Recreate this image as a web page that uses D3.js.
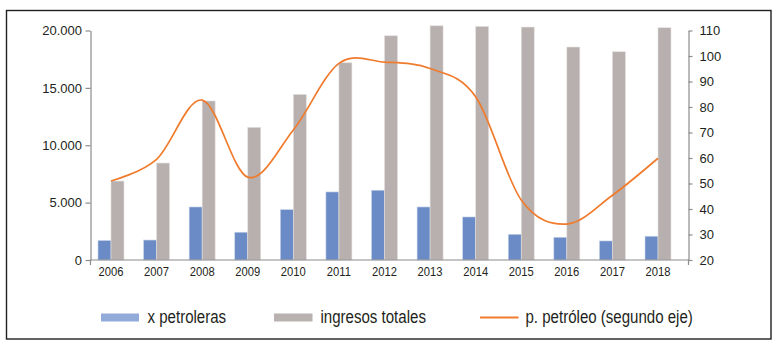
<!DOCTYPE html>
<html>
<head>
<meta charset="utf-8">
<script src="https://cdn.jsdelivr.net/npm/d3@7"></script>
<style>
  html, body { margin: 0; padding: 0; background: #ffffff; }
  svg { display: block; }
</style>
</head>
<body>
<svg id="chart" width="779" height="347"></svg>
<script>
// ---- data ----
const years = ["2006","2007","2008","2009","2010","2011","2012","2013","2014","2015","2016","2017","2018"];
const xPetroleras = [1700, 1740, 4620, 2420, 4390, 5930, 6080, 4620, 3750, 2240, 1980, 1660, 2070];
const ingresosTotales = [6880, 8450, 13860, 11560, 14430, 17190, 19540, 20410, 20360, 20300, 18560, 18150, 20240];
const precioPetroleo = [51, 59.5, 82.7, 52.5, 71, 97.1, 97.6, 95.1, 84, 43.5, 34.1, 45.4, 59.9];
const leftTicks = [0, 5000, 10000, 15000, 20000];
const rightTicks = [20, 30, 40, 50, 60, 70, 80, 90, 100, 110];
const legendLabels = ["x petroleras", "ingresos totales", "p. petróleo (segundo eje)"];

// ---- layout ----
const svg = d3.select("#chart");
const plotLeft = 90.5, plotRight = 688.5, plotTop = 30.5, plotBottom = 260;
const colBlue = "#6a8bc5", colGray = "#b8b0ae", colOrange = "#f07b2c";
const colLegBlue = "#93abd9", colLegGray = "#bab2b0";
const axisCol = "#8c8c8c", textCol = "#231f20";
const font = "'Liberation Sans', Arial, sans-serif";

// condense text horizontally (mimics a condensed typeface)
function condense(sel, factor) {
  sel.each(function () {
    const w = this.getComputedTextLength();
    d3.select(this).attr("textLength", w * factor).attr("lengthAdjust", "spacingAndGlyphs");
  });
}

// frame
svg.append("rect").attr("x", 6.5).attr("y", 10.5).attr("width", 764.5).attr("height", 328.5)
  .attr("fill", "none").attr("stroke", "#231f20").attr("stroke-width", 1.4);

const x = d3.scaleBand().domain(years).range([88.2, 680.8]).paddingInner(0.43).paddingOuter(0.215);
const xSub = d3.scaleBand().domain(["xp", "it"]).range([0, x.bandwidth()]);
const yL = d3.scaleLinear().domain([0, 20000]).range([plotBottom, plotTop]);
const yR = d3.scaleLinear().domain([20, 110]).range([plotBottom, plotTop]);

// bars
const g = svg.append("g");
years.forEach((yr, i) => {
  const x0 = x(yr);
  g.append("rect")
    .attr("x", x0 + xSub("xp")).attr("width", xSub.bandwidth())
    .attr("y", yL(xPetroleras[i])).attr("height", yL(0) - yL(xPetroleras[i]))
    .attr("fill", colBlue).attr("stroke", "#c9d4ea").attr("stroke-width", 0.6);
  g.append("rect")
    .attr("x", x0 + xSub("it")).attr("width", xSub.bandwidth())
    .attr("y", yL(ingresosTotales[i])).attr("height", yL(0) - yL(ingresosTotales[i]))
    .attr("fill", colGray).attr("stroke", "#e4e0df").attr("stroke-width", 0.6);
});

// x axis line with end ticks
svg.append("path")
  .attr("d", `M${plotLeft},${plotBottom + 5}V${plotBottom}H${plotRight}V${plotBottom + 5}`)
  .attr("fill", "none").attr("stroke", axisCol).attr("stroke-width", 1.2);

// x labels
const xAxis = svg.append("g").attr("transform", `translate(0,${plotBottom})`)
  .call(d3.axisBottom(x).tickSize(0).tickPadding(6.5));
xAxis.select(".domain").remove();
xAxis.selectAll("text").attr("font-family", font).attr("font-size", 13.5).attr("fill", textCol)
  .call(condense, 0.83);

// left axis
const fmt = d => d === 0 ? "0" : d3.format(",")(d).replace(/,/g, ".");
const lAxis = svg.append("g").attr("transform", `translate(${plotLeft},0)`)
  .call(d3.axisLeft(yL).tickValues(leftTicks).tickFormat(fmt).tickSize(5).tickSizeOuter(0).tickPadding(3.5));
lAxis.select(".domain").attr("stroke", axisCol).attr("stroke-width", 1.2);
lAxis.selectAll(".tick line").attr("stroke", axisCol).attr("stroke-width", 1.2);
lAxis.selectAll("text").attr("font-family", font).attr("font-size", 13).attr("fill", textCol);

// right axis
const rAxis = svg.append("g").attr("transform", `translate(${plotRight},0)`)
  .call(d3.axisRight(yR).tickValues(rightTicks).tickSize(4).tickSizeOuter(0).tickPadding(7));
rAxis.select(".domain").attr("stroke", axisCol).attr("stroke-width", 1.2);
rAxis.selectAll(".tick line").attr("stroke", axisCol).attr("stroke-width", 1.2);
rAxis.selectAll("text").attr("font-family", font).attr("font-size", 13).attr("fill", textCol);

// oil price line
const line = d3.line()
  .x((d, i) => x(years[i]) + x.bandwidth() / 2)
  .y(d => yR(d))
  .curve(d3.curveCardinal.tension(0));
svg.append("path").datum(precioPetroleo)
  .attr("d", line).attr("fill", "none").attr("stroke", colOrange).attr("stroke-width", 1.7);

// legend
const legY = 317.5;
const leg = svg.append("g").attr("font-family", font).attr("font-size", 17.5).attr("fill", textCol);
leg.append("rect").attr("x", 101).attr("y", legY - 4).attr("width", 38).attr("height", 8).attr("fill", colLegBlue);
leg.append("text").attr("x", 147.5).attr("y", legY + 5.5).text(legendLabels[0]);
leg.append("rect").attr("x", 274).attr("y", legY - 4).attr("width", 38.5).attr("height", 8).attr("fill", colLegGray);
leg.append("text").attr("x", 320.5).attr("y", legY + 5.5).text(legendLabels[1]);
leg.append("line").attr("x1", 480).attr("x2", 518.5).attr("y1", legY).attr("y2", legY)
  .attr("stroke", colOrange).attr("stroke-width", 2);
leg.append("text").attr("x", 525.5).attr("y", legY + 5.5).text(legendLabels[2]);
leg.selectAll("text").call(condense, 0.86);
</script>
</body>
</html>
